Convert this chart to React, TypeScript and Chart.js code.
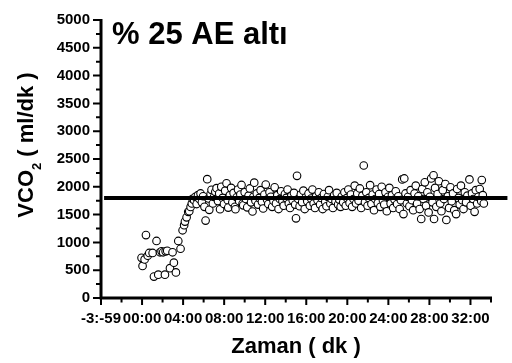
import { useEffect, useRef } from "react";
import { Chart, registerables } from "chart.js";

Chart.register(...registerables);

const FONT = '"Liberation Sans", Arial, Helvetica, sans-serif';

// Text
const chartTitle = "% 25 AE altı";
const xTitle = "Zaman ( dk )";
const yTitleMain = "VCO";
const yTitleSub = "2";
const yTitleUnit = " ( ml/dk )";

// Axes
const xRange = [-4, 34];
const xTickValues = [-4, 0, 4, 8, 12, 16, 20, 24, 28, 32];
const xTickLabels = ["-3:-59", "00:00", "04:00", "08:00", "12:00", "16:00", "20:00", "24:00", "28:00", "32:00"];
const xMinorStep = 2;
const yRange = [0, 5000];
const yStep = 500;
const yMinorStep = 250;

// Reference level (ml/dk) and its horizontal extent (dk)
const thresholdVco2 = 1800;
const thresholdSpan = [-3.7, 35.6];

// Breath-by-breath VCO2: [time (dk), VCO2 (ml/dk)]
const restPhase: [number, number][] = [
  [-0.05, 722], [0.05, 577], [0.25, 694], [0.38, 1131], [0.55, 760], [0.7, 810],
  [1.03, 810], [1.16, 385], [1.41, 1026], [1.58, 420], [1.75, 822], [1.9, 839],
  [2.05, 822], [2.23, 420], [2.3, 839], [2.45, 850], [2.72, 537], [2.97, 822],
  [3.1, 635], [3.3, 460], [3.53, 1026], [3.75, 886], [3.95, 1218], [4.1, 1310],
  [4.18, 1375], [4.34, 1451], [4.5, 1550], [4.6, 1560], [4.73, 1638], [4.85, 1700],
  [4.92, 1783],
];

const onsetPhase: [number, number][] = [
  [5.08, 1760], [5.2, 1820], [5.32, 1690], [5.45, 1850], [5.58, 1780], [5.7, 1880],
  [5.83, 1720], [5.95, 1830], [6.08, 1640], [6.19, 1393], [6.35, 2138], [6.47, 1790],
  [6.55, 1585], [6.68, 1870], [6.77, 1946], [6.9, 1700], [7.02, 1820], [7.14, 1910],
  [7.26, 1975], [7.4, 1743], [7.52, 1880], [7.6, 1596], [7.72, 2000], [7.85, 1800],
  [7.98, 1690], [8.1, 1930], [8.23, 2063], [8.35, 1760], [8.4, 1626], [8.55, 1850],
  [8.68, 1980], [8.8, 1720], [8.92, 1890], [9.05, 1640], [9.1, 1596], [9.22, 1810],
  [9.35, 1950], [9.47, 1740], [9.58, 1860], [9.69, 2033], [9.8, 1700], [9.86, 1666],
  [10.0, 1900], [10.12, 1780], [10.25, 1630], [10.38, 1840], [10.5, 1970], [10.62, 1720],
  [10.76, 1556], [10.85, 1820], [10.93, 2075], [11.05, 1750], [11.18, 1880], [11.3, 1680],
  [11.42, 1800], [11.55, 1940], [11.68, 1730], [11.8, 1610], [11.92, 1860], [12.05, 2040],
  [12.18, 1770], [12.3, 1690], [12.42, 1900], [12.55, 1820], [12.68, 1640], [12.8, 1750],
  [12.92, 1990], [13.05, 1700], [13.18, 1850], [13.3, 1600], [13.42, 1780], [13.55, 1920],
  [13.68, 1740], [13.8, 1660], [13.92, 1870],
];

const steadyPhase: [number, number][] = [
  [14.05, 1800], [14.18, 1950], [14.3, 1700], [14.42, 1620], [14.55, 1840], [14.68, 1760],
  [14.8, 1890], [14.92, 1680], [15.0, 1433], [15.1, 2197], [15.22, 1780], [15.35, 1650],
  [15.47, 1860], [15.6, 1720], [15.72, 1930], [15.85, 1600], [15.97, 1810], [16.1, 1740],
  [16.22, 1880], [16.35, 1660], [16.47, 1790], [16.6, 1950], [16.72, 1700], [16.85, 1620],
  [16.97, 1830], [17.1, 1760], [17.22, 1900], [17.35, 1680], [17.47, 1800], [17.6, 1600],
  [17.72, 1870], [17.85, 1730], [17.97, 1650], [18.1, 1820], [18.22, 1940], [18.35, 1700],
  [18.47, 1780], [18.6, 1620], [18.72, 1850], [18.85, 1740], [18.97, 1890], [19.1, 1680],
  [19.22, 1770], [19.35, 1640], [19.47, 1830], [19.6, 1720], [19.72, 1900], [19.85, 1660],
  [19.97, 1800], [20.1, 1950], [20.22, 1710], [20.35, 1860], [20.47, 1640], [20.6, 1780],
  [20.72, 2020], [20.85, 1700], [20.97, 1880],
];

const latePhase: [number, number][] = [
  [21.1, 1750], [21.22, 1970], [21.35, 1620], [21.47, 1840], [21.6, 2383], [21.72, 1720],
  [21.85, 1900], [21.97, 1660], [22.1, 1800], [22.22, 2030], [22.35, 1690], [22.47, 1860],
  [22.6, 1580], [22.72, 1780], [22.85, 1950], [22.97, 1710], [23.1, 1870], [23.22, 1640],
  [23.35, 2000], [23.47, 1760], [23.6, 1680], [23.72, 1900], [23.85, 1560], [23.97, 1820],
  [24.1, 1980], [24.22, 1700], [24.35, 1850], [24.47, 1620], [24.6, 1770], [24.72, 1920],
  [24.85, 1690], [24.97, 1830], [25.1, 1600], [25.22, 1760], [25.35, 2133], [25.47, 1509],
  [25.55, 2150], [25.67, 1880], [25.8, 1700], [25.92, 1820], [26.05, 1650], [26.17, 1940],
  [26.3, 1760], [26.42, 1580], [26.55, 1880], [26.67, 2020], [26.8, 1700], [26.92, 1830],
  [27.05, 1600], [27.2, 1421], [27.3, 1960], [27.42, 1780], [27.55, 2080], [27.67, 1660],
  [27.8, 1900], [27.92, 1540], [28.05, 1820], [28.17, 2150], [28.3, 1720], [28.4, 2208],
  [28.45, 1421], [28.55, 1980], [28.67, 1640], [28.8, 1870], [28.92, 2100], [29.05, 1700],
  [29.17, 1560], [29.3, 1940], [29.42, 1780], [29.55, 2050], [29.65, 1404], [29.8, 1830],
  [29.92, 1620], [30.05, 1990], [30.17, 1740], [30.3, 1880], [30.42, 1580], [30.6, 1509],
  [30.7, 1960], [30.82, 1800], [30.95, 1680], [31.07, 2020], [31.2, 1760], [31.32, 1600],
  [31.45, 1900], [31.57, 1720], [31.7, 1840], [31.9, 2133], [32.02, 1660], [32.15, 1880],
  [32.27, 1780], [32.4, 1550], [32.52, 1940], [32.65, 1700], [32.77, 1820], [32.9, 1960],
  [33.05, 1740], [33.1, 2121], [33.2, 1850], [33.3, 1700],
];

// Axis lines with major/minor tick marks
const axisMarks = {
  id: "axisMarks",
  afterDraw(chart: any) {
    const { ctx } = chart;
    const x = chart.scales.x;
    const y = chart.scales.y;
    const left = x.getPixelForValue(xRange[0]);
    const right = x.getPixelForValue(xRange[1]);
    const bottom = y.getPixelForValue(yRange[0]);
    const top = y.getPixelForValue(yRange[1]);
    ctx.save();
    ctx.strokeStyle = "#000";
    ctx.lineCap = "butt";
    ctx.lineWidth = 3;
    ctx.beginPath();
    ctx.moveTo(left, top - 1);
    ctx.lineTo(left, bottom + 1.5);
    ctx.moveTo(left - 1.5, bottom);
    ctx.lineTo(right + 1, bottom);
    ctx.stroke();

    ctx.lineWidth = 2;
    ctx.beginPath();
    for (let v = yRange[0]; v <= yRange[1]; v += yMinorStep) {
      const p = y.getPixelForValue(v);
      const len = v % yStep === 0 ? 6.5 : 3.5;
      ctx.moveTo(left - 1.5 - len, p);
      ctx.lineTo(left, p);
    }
    for (let v = xRange[0]; v <= xRange[1]; v += xMinorStep) {
      const p = x.getPixelForValue(v);
      const len = xTickValues.includes(v) ? 5.5 : 3;
      ctx.moveTo(p, bottom);
      ctx.lineTo(p, bottom + 1.5 + len);
    }
    ctx.stroke();
    ctx.restore();
  },
};

// Chart title and axis titles
const titles = {
  id: "titles",
  afterDraw(chart: any) {
    const { ctx, chartArea } = chart;
    ctx.save();
    ctx.fillStyle = "#000";
    ctx.textBaseline = "alphabetic";

    ctx.textAlign = "left";
    ctx.font = `bold 31px ${FONT}`;
    ctx.fillText(chartTitle, chartArea.left + 11, chartArea.top + 24);

    ctx.textAlign = "center";
    ctx.font = `bold 22px ${FONT}`;
    ctx.fillText(xTitle, (chartArea.left + chartArea.right) / 2, chartArea.bottom + 55);

    // rotated y title with subscript
    ctx.translate(33, chartArea.top + 125);
    ctx.rotate(-Math.PI / 2);
    ctx.textAlign = "left";
    const big = `bold 22px ${FONT}`;
    const small = `bold 13px ${FONT}`;
    ctx.font = big;
    const w1 = ctx.measureText(yTitleMain).width;
    const w3 = ctx.measureText(yTitleUnit).width;
    ctx.font = small;
    const w2 = ctx.measureText(yTitleSub).width;
    const start = -(w1 + w2 + w3) / 2;
    ctx.font = big;
    ctx.fillText(yTitleMain, start, 0);
    ctx.font = small;
    ctx.fillText(yTitleSub, start + w1, 8);
    ctx.font = big;
    ctx.fillText(yTitleUnit, start + w1 + w2, 0);
    ctx.restore();
  },
};

export default function App() {
  const canvasRef = useRef<HTMLCanvasElement>(null);

  useEffect(() => {
    document.body.style.margin = "0";
    const canvas = canvasRef.current;
    if (!canvas) return;

    const breaths = [...restPhase, ...onsetPhase, ...steadyPhase, ...latePhase].map(([t, v]) => ({ x: t, y: v }));
    const threshold = thresholdSpan.map((t) => ({ x: t, y: thresholdVco2 }));
    const tickFont = { family: FONT, size: 15, weight: "bold" as const };

    const chart = new Chart(canvas, {
      type: "scatter",
      data: {
        datasets: [
          {
            type: "line",
            data: threshold,
            borderColor: "#000",
            borderWidth: 4,
            pointRadius: 0,
            fill: false,
            clip: false as any,
            order: 0,
          } as any,
          {
            data: breaths,
            pointRadius: 3.8,
            pointBorderWidth: 1.1,
            pointBackgroundColor: "#fff",
            pointBorderColor: "#000",
            order: 1,
          },
        ],
      },
      options: {
        responsive: false,
        animation: false,
        events: [],
        layout: { padding: { top: 12, right: 21, left: 0, bottom: 0 }, autoPadding: false } as any,
        plugins: { legend: { display: false }, tooltip: { enabled: false } },
        scales: {
          x: {
            type: "linear",
            min: xRange[0],
            max: xRange[1],
            grid: { display: false, drawTicks: false },
            border: { display: false },
            afterBuildTicks: (scale: any) => {
              scale.ticks = xTickValues.map((value) => ({ value }));
            },
            afterFit: (scale: any) => {
              scale.height = 65;
            },
            ticks: {
              autoSkip: false,
              maxRotation: 0,
              padding: 12,
              color: "#000",
              font: tickFont,
              callback: (value: any) => {
                const i = xTickValues.indexOf(Number(value));
                return i >= 0 ? xTickLabels[i] : "";
              },
            },
          },
          y: {
            type: "linear",
            min: yRange[0],
            max: yRange[1],
            grid: { display: false, drawTicks: false },
            border: { display: false },
            afterFit: (scale: any) => {
              scale.width = 101;
            },
            ticks: {
              stepSize: yStep,
              padding: 11,
              color: "#000",
              font: tickFont,
              callback: (value: any) => String(value),
            },
          },
        },
      },
      plugins: [axisMarks, titles],
    });

    return () => chart.destroy();
  }, []);

  return (
    <div style={{ position: "fixed", left: 0, top: 0, width: 512, height: 363, background: "#fff" }}>
      <canvas ref={canvasRef} width={512} height={363} style={{ display: "block" }} />
    </div>
  );
}
